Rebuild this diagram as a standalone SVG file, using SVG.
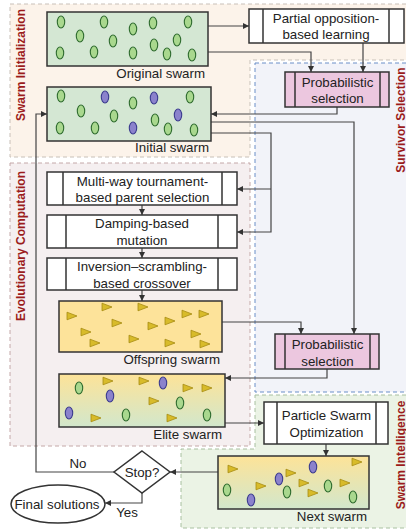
<svg xmlns="http://www.w3.org/2000/svg" xmlns:xlink="http://www.w3.org/1999/xlink" width="406" height="531" viewBox="0 0 406 531">
<style>
text{font-family:"Liberation Sans",Arial,sans-serif;fill:#222;font-size:13.3px}
.c{text-anchor:middle}
.e{text-anchor:end}
.reg{font-weight:bold;font-size:12px;fill:#9b1c1c;text-anchor:middle}
.box{stroke:#333;stroke-width:1.5}
.proc{fill:#fff}
.prob{fill:#ecc7df}
.sw{fill:#d4e7d3}
.off{fill:#fde39a}
.div{stroke:#333;stroke-width:1.5;fill:none}
.g{fill:#a9d88e;stroke:#2e6b2e;stroke-width:1.1}
.p{fill:#8b82cc;stroke:#3b3b8f;stroke-width:1.1}
.t{fill:#d8bb2a;stroke:#a68b12;stroke-width:0.8}
.ln{fill:none;stroke:#444;stroke-width:1.2}
.rg{stroke-dasharray:4 3;stroke-width:1}
</style>
<defs>
<marker id="ah" viewBox="0 0 6 6" refX="6" refY="3" markerWidth="6" markerHeight="6" markerUnits="userSpaceOnUse" orient="auto">
<path d="M0,0 L6,3 L0,6 z" fill="#333"/>
</marker>
<linearGradient id="mix" x1="0" y1="0" x2="0" y2="1">
<stop offset="0" stop-color="#fde398"/>
<stop offset="1" stop-color="#d2e7cc"/>
</linearGradient>
<ellipse id="el" cx="0" cy="0" rx="3.7" ry="6"/>
<path id="tr" d="M-5,-3.8 L5,0 L-5,3.8 z"/>
</defs>

<g id="regions">
<path class="rg" d="M10,4 H410 V60 H250 V157 H10 Z" fill="#fcf3ea" stroke="#c8c0b8"/>
<rect class="rg" x="255" y="63" width="155" height="329" fill="#f2f3f9" stroke="#6b8fc8"/>
<rect class="rg" x="10" y="163" width="240" height="283" fill="#f5eff0" stroke="#c4a8a8"/>
<path class="rg" d="M255,395 H410 V528 H181 V449 H255 Z" fill="#ebf3e5" stroke="#a8c0a0"/>
<text class="reg" transform="translate(24.5,65) rotate(-90)">Swarm Initialization</text>
<text class="reg" transform="translate(24.5,246) rotate(-90)">Evolutionary Computation</text>
<text class="reg" transform="translate(404.5,120) rotate(-90)">Survivor Selection</text>
<text class="reg" transform="translate(404.5,455) rotate(-90)">Swarm Intelligence</text>
</g>

<g id="connectors">
<path class="ln" d="M208,26 H249" marker-end="url(#ah)"/>
<path class="ln" d="M208,52 H311 V72" marker-end="url(#ah)"/>
<path class="ln" d="M363,43 V72" marker-end="url(#ah)"/>
<path class="ln" d="M337,107 V114 H211" marker-end="url(#ah)"/>
<path class="ln" d="M211,122 H354 V334" marker-end="url(#ah)"/>
<path class="ln" d="M211,133 H271 V232 H237" marker-end="url(#ah)"/>
<path class="ln" d="M271,189 H237" marker-end="url(#ah)"/>
<path class="ln" d="M142,205 V215" marker-end="url(#ah)"/>
<path class="ln" d="M142,248 V258" marker-end="url(#ah)"/>
<path class="ln" d="M142,290 V301" marker-end="url(#ah)"/>
<path class="ln" d="M222,322 H301 V334" marker-end="url(#ah)"/>
<path class="ln" d="M327,369 V378 H225" marker-end="url(#ah)"/>
<path class="ln" d="M225,423 H264" marker-end="url(#ah)"/>
<path class="ln" d="M326,444 V456" marker-end="url(#ah)"/>
<path class="ln" d="M218,472 H170" marker-end="url(#ah)"/>
<path class="ln" d="M114,472 H36 V114 H47" marker-end="url(#ah)"/>
<path class="ln" d="M142,493 V503 H105" marker-end="url(#ah)"/>
<text class="c" x="78" y="468">No</text>
<text class="c" x="127" y="517">Yes</text>
</g>

<g id="original-swarm">
<rect class="box sw" x="47" y="12" width="161" height="54"/>
<use href="#el" class="g" x="61" y="22"/>
<use href="#el" class="g" x="80" y="36"/>
<use href="#el" class="g" x="60" y="53"/>
<use href="#el" class="g" x="104" y="22"/>
<use href="#el" class="g" x="113" y="41"/>
<use href="#el" class="g" x="94" y="52"/>
<use href="#el" class="g" x="133" y="29"/>
<use href="#el" class="g" x="133" y="53"/>
<use href="#el" class="g" x="153" y="23"/>
<use href="#el" class="g" x="154" y="45"/>
<use href="#el" class="g" x="177" y="40"/>
<use href="#el" class="g" x="167" y="54"/>
<use href="#el" class="g" x="188" y="22"/>
<use href="#el" class="g" x="192" y="55"/>
<text class="e" x="205" y="78">Original swarm</text>
</g>

<g id="initial-swarm">
<rect class="box sw" x="47" y="87" width="164" height="54"/>
<use href="#el" class="g" x="61" y="96"/>
<use href="#el" class="g" x="81" y="111"/>
<use href="#el" class="g" x="60" y="128"/>
<use href="#el" class="p" x="105" y="97"/>
<use href="#el" class="g" x="114" y="116"/>
<use href="#el" class="g" x="95" y="128"/>
<use href="#el" class="g" x="133" y="103"/>
<use href="#el" class="p" x="133" y="128"/>
<use href="#el" class="p" x="154" y="98"/>
<use href="#el" class="g" x="155" y="120"/>
<use href="#el" class="p" x="178" y="115"/>
<use href="#el" class="g" x="168" y="129"/>
<use href="#el" class="g" x="190" y="97"/>
<use href="#el" class="g" x="194" y="130"/>
<text class="e" x="209" y="152">Initial swarm</text>
</g>

<g id="partial-opposition">
<rect class="box proc" x="249" y="9" width="155" height="34"/>
<path class="div" d="M263,9 V43 M389,9 V43"/>
<text class="c" x="326" y="23">Partial opposition-</text>
<text class="c" x="326" y="39">based learning</text>
</g>

<g id="prob-selection-1">
<rect class="box prob" x="285" y="72" width="104" height="35"/>
<path class="div" d="M295,72 V107 M380,72 V107"/>
<text class="c" x="337.5" y="87">Probabilistic</text>
<text class="c" x="337.5" y="103">selection</text>
</g>

<g id="parent-selection">
<rect class="box proc" x="47" y="172" width="190" height="33"/>
<path class="div" d="M63,172 V205 M222,172 V205"/>
<text class="c" x="142.5" y="186">Multi-way tournament-</text>
<text class="c" x="142.5" y="202">based parent selection</text>
</g>

<g id="mutation">
<rect class="box proc" x="47" y="215" width="190" height="33"/>
<path class="div" d="M66,215 V248 M218,215 V248"/>
<text class="c" x="142" y="228">Damping-based</text>
<text class="c" x="142" y="245">mutation</text>
</g>

<g id="crossover">
<rect class="box proc" x="47" y="258" width="190" height="32"/>
<path class="div" d="M66,258 V290 M218,258 V290"/>
<text class="c" x="142" y="271">Inversion–scrambling-</text>
<text class="c" x="142" y="288">based crossover</text>
</g>

<g id="offspring-swarm">
<rect class="box off" x="59" y="301" width="163" height="51"/>
<use href="#tr" class="t" x="72" y="316"/>
<use href="#tr" class="t" x="107" y="307"/>
<use href="#tr" class="t" x="143" y="307"/>
<use href="#tr" class="t" x="117" y="323"/>
<use href="#tr" class="t" x="153" y="326"/>
<use href="#tr" class="t" x="170" y="321"/>
<use href="#tr" class="t" x="187" y="314"/>
<use href="#tr" class="t" x="204" y="314"/>
<use href="#tr" class="t" x="86" y="332"/>
<use href="#tr" class="t" x="95" y="343"/>
<use href="#tr" class="t" x="134" y="339"/>
<use href="#tr" class="t" x="170" y="343"/>
<use href="#tr" class="t" x="196" y="334"/>
<use href="#tr" class="t" x="205" y="344"/>
<text class="e" x="220" y="364">Offspring swarm</text>
</g>

<g id="prob-selection-2">
<rect class="box prob" x="275" y="334" width="104" height="35"/>
<path class="div" d="M285,334 V369 M370,334 V369"/>
<text class="c" x="327.5" y="349">Probabilistic</text>
<text class="c" x="327.5" y="366">selection</text>
</g>

<g id="elite-swarm">
<rect class="box" fill="url(#mix)" x="59" y="374" width="166" height="53"/>
<use href="#el" class="g" x="79" y="388"/>
<use href="#tr" class="t" x="108" y="381"/>
<use href="#el" class="p" x="110" y="396"/>
<use href="#tr" class="t" x="144" y="381"/>
<use href="#el" class="p" x="163" y="383"/>
<use href="#tr" class="t" x="154" y="401"/>
<use href="#tr" class="t" x="188" y="388"/>
<use href="#tr" class="t" x="207" y="388"/>
<use href="#el" class="g" x="180" y="403"/>
<use href="#el" class="p" x="69" y="413"/>
<use href="#tr" class="t" x="96" y="418"/>
<use href="#el" class="g" x="126" y="415"/>
<use href="#tr" class="t" x="172" y="418"/>
<use href="#el" class="g" x="207" y="415"/>
<text class="e" x="222" y="439">Elite swarm</text>
</g>

<g id="pso">
<rect class="box proc" x="264" y="402" width="124" height="42"/>
<path class="div" d="M277,402 V444 M376,402 V444"/>
<text class="c" x="326.5" y="420">Particle Swarm</text>
<text class="c" x="326.5" y="437">Optimization</text>
</g>

<g id="next-swarm">
<rect class="box" fill="url(#mix)" x="218" y="456" width="151" height="53"/>
<use href="#tr" class="t" x="233" y="469"/>
<use href="#el" class="g" x="227" y="490"/>
<use href="#tr" class="t" x="261" y="486"/>
<use href="#el" class="p" x="251" y="500"/>
<use href="#el" class="p" x="279" y="479"/>
<use href="#tr" class="t" x="291" y="473"/>
<use href="#el" class="g" x="287" y="492"/>
<use href="#el" class="p" x="313" y="467"/>
<use href="#tr" class="t" x="304" y="483"/>
<use href="#tr" class="t" x="313" y="493"/>
<use href="#el" class="g" x="328" y="486"/>
<use href="#tr" class="t" x="345" y="483"/>
<use href="#el" class="g" x="353" y="497"/>
<use href="#tr" class="t" x="357" y="462"/>
<text class="e" x="367" y="521">Next swarm</text>
</g>

<g id="stop">
<path class="box" fill="#fff" d="M142,451 L170,472 L142,493 L114,472 Z"/>
<text class="c" x="142" y="477">Stop?</text>
</g>

<g id="final-solutions">
<ellipse class="box" fill="#fff" cx="58" cy="504" rx="47" ry="19"/>
<text class="c" x="57" y="509">Final solutions</text>
</g>
</svg>
